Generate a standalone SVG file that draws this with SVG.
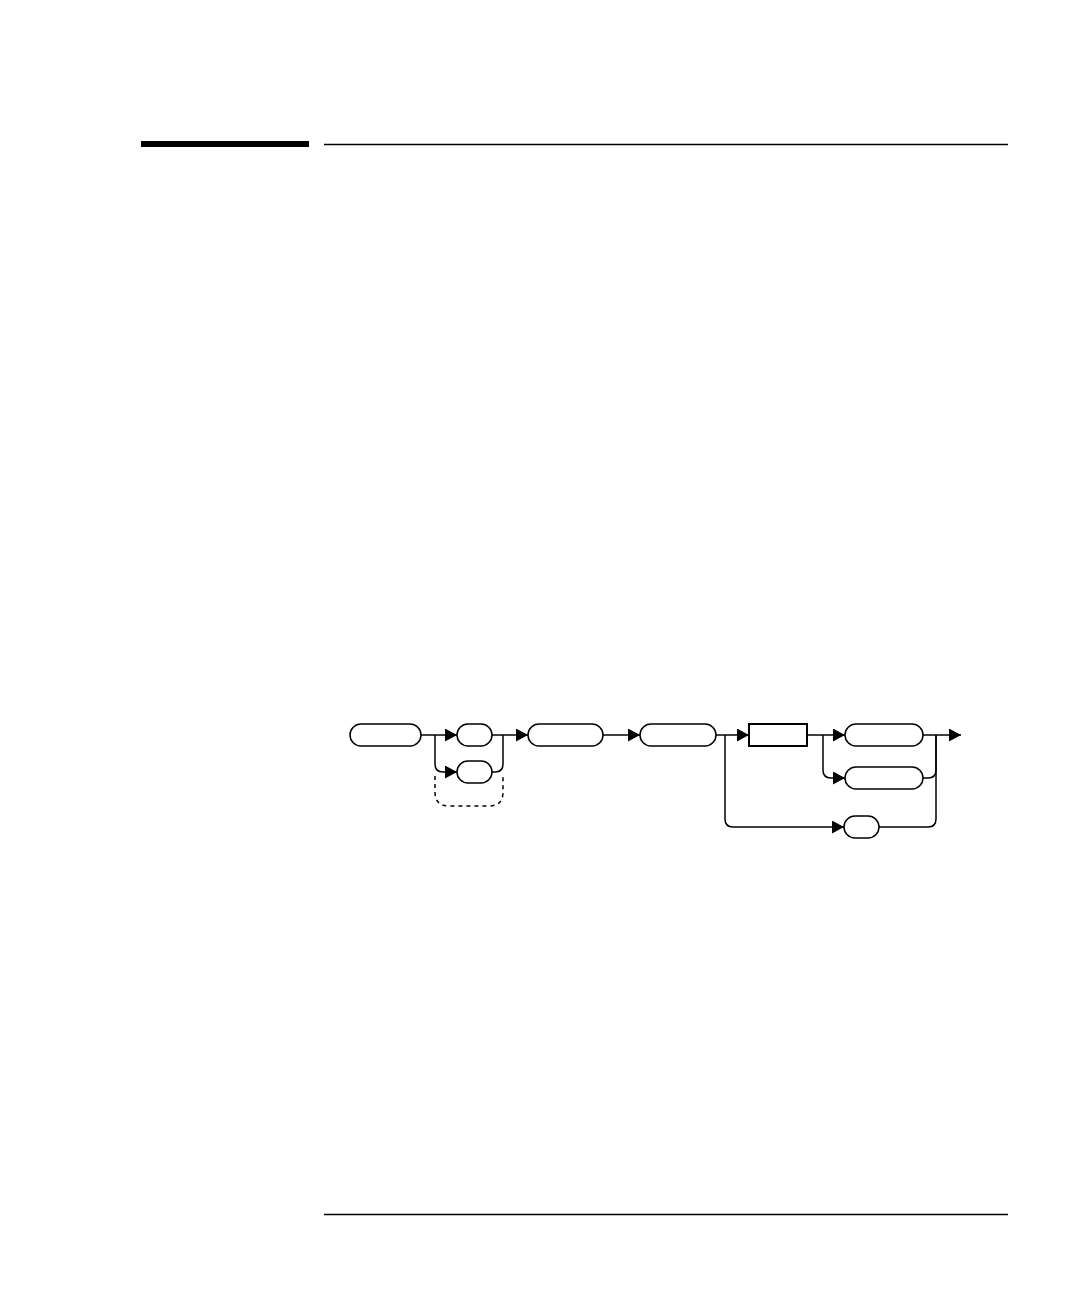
<svg xmlns="http://www.w3.org/2000/svg" width="1080" height="1296" viewBox="0 0 1080 1296">
<style>
.n{fill:#fff;stroke:#000;stroke-width:1.5}
.r{fill:#fff;stroke:#000;stroke-width:2}
.c{fill:none;stroke:#000;stroke-width:1.5}
.d{fill:none;stroke:#000;stroke-width:1.5;stroke-dasharray:4 4}
</style>
<defs>
<marker id="a" markerUnits="userSpaceOnUse" markerWidth="13" markerHeight="14" refX="12" refY="6.5" orient="auto">
<path d="M0,0 L12,6.5 L0,13 z" fill="#000"/>
</marker>
</defs>
<rect width="1080" height="1296" fill="#fff"/>
<g id="header">
<rect x="141" y="141" width="168" height="6" fill="#000"/>
<line x1="324" y1="144.5" x2="1008" y2="144.5" stroke="#000" stroke-width="1.5"/>
</g>
<g id="footer">
<line x1="324" y1="1214.5" x2="1008" y2="1214.5" stroke="#000" stroke-width="1.5"/>
</g>
<g id="connectors">
<path class="c" d="M421,735 H457" stroke-width="2" marker-end="url(#a)"/>
<path class="c" d="M435,735 V764 Q435,772 443,772 H457" marker-end="url(#a)"/>
<path class="c" d="M492,735 H528" marker-end="url(#a)"/>
<path class="c" d="M503,735 V764 Q503,772 495,772 H492"/>
<path class="d" d="M435,776 V792 Q435,806 449,806 H489 Q503,806 503,792 V776"/>
<path class="c" d="M603,735 H640" marker-end="url(#a)"/>
<path class="c" d="M716,735 H749" marker-end="url(#a)"/>
<path class="c" d="M725,735 V819 Q725,827 733,827 H844" marker-end="url(#a)"/>
<path class="c" d="M807,735 H845" marker-end="url(#a)"/>
<path class="c" d="M823,735 V770 Q823,778 831,778 H845" marker-end="url(#a)"/>
<path class="c" d="M923,735 H961" marker-end="url(#a)"/>
<path class="c" d="M923,778 H928 Q936,778 936,770 V735"/>
<path class="c" d="M879,827 H928 Q936,827 936,819 V735"/>
</g>
<g id="node1"><rect class="n" x="350" y="724" width="71" height="22" rx="11"/></g>
<g id="node2"><rect class="n" x="457" y="724" width="35" height="22" rx="11"/></g>
<g id="node3"><rect class="n" x="457" y="761" width="35" height="22" rx="11"/></g>
<g id="node4"><rect class="n" x="528" y="724" width="75" height="22" rx="11"/></g>
<g id="node5"><rect class="n" x="640" y="724" width="76" height="22" rx="11"/></g>
<g id="node6"><rect class="r" x="749" y="724" width="58" height="22"/></g>
<g id="node7"><rect class="n" x="845" y="724" width="78" height="22" rx="11"/></g>
<g id="node8"><rect class="n" x="845" y="767" width="78" height="22" rx="11"/></g>
<g id="node9"><rect class="n" x="844" y="816" width="35" height="22" rx="11"/></g>
</svg>
